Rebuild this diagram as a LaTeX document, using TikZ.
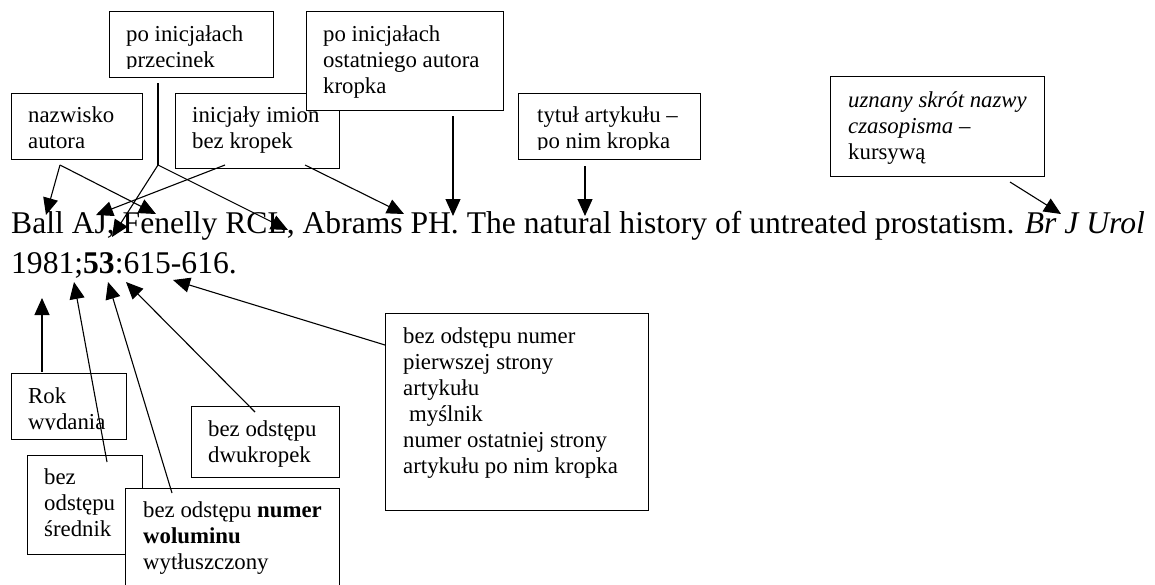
\documentclass[tikz,border=0pt]{standalone}
\usepackage{fontspec}
\setmainfont{Liberation Serif}
\usetikzlibrary{arrows.meta}
\newcommand{\ml}[1]{\begin{tabular}[t]{@{}l@{}}#1\end{tabular}}
\begin{document}
\begin{tikzpicture}[x=1pt,y=-1pt,
  box/.style={draw, line width=1.3pt, fill=white, inner sep=0pt, anchor=north west},
  lbl/.style={anchor=base west, inner sep=0pt, font=\fontsize{22.8}{26}\selectfont},
  body/.style={anchor=base west, inner sep=0pt, font=\fontsize{31.6}{40}\selectfont},
  arr/.style={line width=1.1pt, -{Triangle[width=15pt,length=17pt]}},
  ln/.style={line width=1.1pt}
]
\useasboundingbox (0,0) rectangle (1155,584);

% ---- top boxes ----
\node[box, minimum width=164pt, minimum height=66pt] (bPrz) at (109,11) {};
\begin{scope}
  \clip (109,11) rectangle (273,68.5);
  \node[lbl] (tPrz) at (126,41) {\ml{po inicjałach\\przecinek}};
\end{scope}

\node[box, minimum width=131pt, minimum height=66pt] (bNaz) at (11,93) {};
\node[lbl] (tNaz) at (28,122) {\ml{nazwisko\\autora}};

\node[box, minimum width=164pt, minimum height=75pt] (bIni) at (175,93) {};
\node[lbl] (tIni) at (192,122) {\ml{inicjały imion\\bez kropek}};

\node[box, minimum width=197pt, minimum height=99pt] (bOst) at (306,11) {};
\node[lbl] (tOst) at (323,41) {\ml{po inicjałach\\ostatniego autora\\kropka}};

\node[box, minimum width=182pt, minimum height=66pt] (bTyt) at (518,93) {};
\begin{scope}
  \clip (518,93) rectangle (700,149.5);
  \node[lbl] (tTyt) at (537,122) {\ml{tytuł artykułu –\\po nim kropka}};
\end{scope}

\node[box, minimum width=214pt, minimum height=100pt] (bSkr) at (830,76) {};
\node[lbl] (tSkr) at (848,107) {\ml{\textit{uznany skrót nazwy}\\\textit{czasopisma} –\\kursywą}};

% ---- citation ----
\node[body] (cit1) at (11,233) {Ball AJ, Fenelly RCL, Abrams PH. The natural history of untreated prostatism. \textit{Br J Urol}};
\node[body] (cit2) at (11,273) {1981;\textbf{53}:615-616.};

% ---- bottom boxes ----
\node[box, minimum width=115pt, minimum height=66pt] (bRok) at (11,373) {};
\begin{scope}
  \clip (11,373) rectangle (126,429);
  \node[lbl] (tRok) at (28,403) {\ml{Rok\\wydania}};
\end{scope}

\node[box, minimum width=115pt, minimum height=99pt] (bSre) at (27,455) {};
\node[lbl] (tSre) at (44,484) {\ml{bez\\odstępu\\średnik}};

\node[box, minimum width=214pt, minimum height=110pt] (bWol) at (125,488) {};
\node[lbl] (tWol) at (143,517) {\ml{bez odstępu \textbf{numer}\\\textbf{woluminu}\\wytłuszczony}};

\node[box, minimum width=148pt, minimum height=71pt] (bDwu) at (191,406) {};
\node[lbl] (tDwu) at (208,436) {\ml{bez odstępu\\dwukropek}};

\node[box, minimum width=263pt, minimum height=197pt] (bStr) at (385,313) {};
\node[lbl] (tStr) at (403,343) {\ml{bez odstępu numer\\pierwszej strony\\artykułu\\\hspace{6pt}myślnik\\numer ostatniej strony\\artykułu po nim kropka}};

% ---- connector points ----
\coordinate (nS) at (60,165);
\coordinate (nT1) at (46,215);
\coordinate (nT2) at (156,214);
\coordinate (pA) at (158,83);
\coordinate (pS) at (158,165);
\coordinate (pT1) at (112,237);
\coordinate (pT2) at (288,230);
\coordinate (iS1) at (225,165);
\coordinate (iT1) at (96,215);
\coordinate (iS2) at (305,165);
\coordinate (iT2) at (404,214);
\coordinate (oS) at (453,116);
\coordinate (oT) at (453,216);
\coordinate (tS) at (585,166);
\coordinate (tT) at (585,216);
\coordinate (sS) at (1010,182);
\coordinate (sT) at (1061,214);
\coordinate (rS) at (42,372);
\coordinate (rT) at (42,298);
\coordinate (eS) at (107,462);
\coordinate (eT) at (74,282);
\coordinate (wS) at (172,493);
\coordinate (wT) at (108,282);
\coordinate (dS) at (255,412);
\coordinate (dT) at (126,282);
\coordinate (gS) at (385,345);
\coordinate (gT) at (173,280);

% ---- connectors ----
\draw[arr] (nS) -- (nT1);
\draw[arr] (nS) -- (nT2);
\draw[ln] (pA) -- (pS);
\draw[arr] (pS) -- (pT1);
\draw[arr] (pS) -- (pT2);
\draw[arr] (iS1) -- (iT1);
\draw[arr] (iS2) -- (iT2);
\draw[arr] (oS) -- (oT);
\draw[arr] (tS) -- (tT);
\draw[arr] (sS) -- (sT);
\draw[arr] (rS) -- (rT);
\draw[arr] (eS) -- (eT);
\draw[arr] (wS) -- (wT);
\draw[arr] (dS) -- (dT);
\draw[arr] (gS) -- (gT);
\end{tikzpicture}
\end{document}
